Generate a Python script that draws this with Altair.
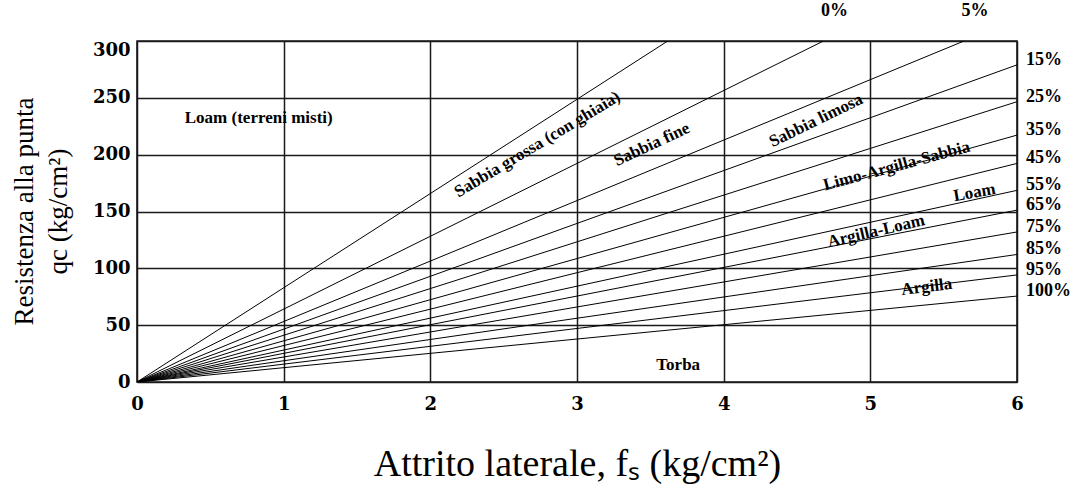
import altair as alt
import pandas as pd

# q_c / f_s ratio of each boundary line through the origin
pendenze = [82.9, 64.1, 53.2, 46.5, 41.1, 36.2, 32.05, 28.1, 25.2, 22.0, 18.7, 15.7, 12.6]
# percentage printed at the end of each line (the first boundary has none)
percentuali = ["", "0%", "5%", "15%", "25%", "35%", "45%", "55%", "65%", "75%", "85%", "95%", "100%"]

# soil-type labels: text, anchor (f_s, q_c), inclination in degrees
zone = ["Loam (terreni misti)", "Sabbia grossa (con ghiaia)", "Sabbia fine", "Sabbia limosa",
        "Limo-Argilla-Sabbia", "Loam", "Argilla-Loam", "Argilla", "Torba"]
zone_fs = [0.83, 2.73, 3.51, 4.63, 5.18, 5.71, 5.04, 5.385, 3.69]
zone_qc = [232, 209, 209, 230, 190, 166.6, 132.7, 83.6, 14.7]
zone_incl = [0, 31, 25, 26, 15, 10, 13, 7, 0]

FS_TICKS = [0, 1, 2, 3, 4, 5, 6]
QC_TICKS = [0, 50, 100, 150, 200, 250, 300]
FS_MAX = FS_TICKS[-1]
QC_MAX = QC_TICKS[-1]

SERIF = "Liberation Serif"

# each line runs from the origin to where it meets the frame
rows, ends = [], []
for i, s in enumerate(pendenze):
    fs_end = min(FS_MAX, QC_MAX / s)
    rows.append({"linea": i, "ordine": 0, "fs": 0.0, "qc": 0.0})
    rows.append({"linea": i, "ordine": 1, "fs": fs_end, "qc": s * fs_end})
    if percentuali[i]:
        ends.append({"testo": percentuali[i], "fs": fs_end, "qc": s * fs_end,
                     "lato": "top" if fs_end < FS_MAX else "right"})
linee = pd.DataFrame(rows)
estremi = pd.DataFrame(ends)

etichette = pd.DataFrame({
    "testo": zone,
    "fs": zone_fs,
    "qc": zone_qc,
    "angolo": [(360 - a) % 360 for a in zone_incl],
})

x_scale = alt.Scale(domain=[0, FS_MAX], nice=False)
y_scale = alt.Scale(domain=[0, QC_MAX], nice=False)

x_axis = alt.Axis(
    values=FS_TICKS, format="d", grid=True,
    title="Attrito laterale, fₛ (kg/cm²)",
    labelPadding=13, labelFlush=False,
    titleFontSize=38, titleFont=SERIF, titleFontWeight="normal",
    titleBaseline="alphabetic", titleY=93,
)
y_axis = alt.Axis(
    values=QC_TICKS, format="d", grid=True,
    title=["Resistenza alla punta", "qc (kg/cm²)"],
    labelPadding=7,
    labelBaseline={"condition": {"test": f"datum.value == {QC_MAX}", "value": "top"}, "value": "middle"},
    titleFontSize=27, titleFont=SERIF, titleFontWeight="normal",
    titleAngle=270, titleAlign="center", titleBaseline="middle",
    titleX=-113, titleY=170, titleLineHeight=34,
)

X = alt.X("fs:Q", scale=x_scale, axis=x_axis)
Y = alt.Y("qc:Q", scale=y_scale, axis=y_axis)

base_lines = alt.Chart(linee).mark_line(color="black", strokeWidth=1, clip=True).encode(
    x=X, y=Y,
    detail="linea:N",
    order="ordine:O",
)

pct_top = alt.Chart(estremi).transform_filter(alt.datum.lato == "top").mark_text(
    font=SERIF, fontWeight="bold", fontSize=18, color="black",
    align="center", baseline="middle", dx=11, dy=-30,
).encode(x=X, y=Y, text="testo:N")

pct_right = alt.Chart(estremi).transform_filter(alt.datum.lato == "right").mark_text(
    font=SERIF, fontWeight="bold", fontSize=18, color="black",
    align="left", baseline="middle", dx=9, dy=-5,
).encode(x=X, y=Y, text="testo:N")

zone_text = alt.Chart(etichette).mark_text(
    font=SERIF, fontWeight="bold", fontSize=17, color="black",
    align="center", baseline="middle",
).encode(
    x=X, y=Y,
    text="testo:N",
    angle=alt.Angle("angolo:Q", scale=None),
)

chart = alt.layer(base_lines, zone_text, pct_top, pct_right).properties(
    width=880, height=341,
    padding={"left": 137, "top": 41, "right": 53, "bottom": 105},
    autosize="none",
    background="white",
).configure_view(
    stroke="#1a1a1a", strokeWidth=1.6,
).configure_axis(
    domain=False, ticks=False, tickSize=0,
    gridColor="#1a1a1a", gridWidth=1.5, gridOpacity=1,
    labelFont="DejaVu Serif", labelFontWeight="bold", labelFontSize=18, labelColor="black",
    titleColor="black",
)

chart.save("out.html", embed_options={"renderer": "svg", "actions": False})
